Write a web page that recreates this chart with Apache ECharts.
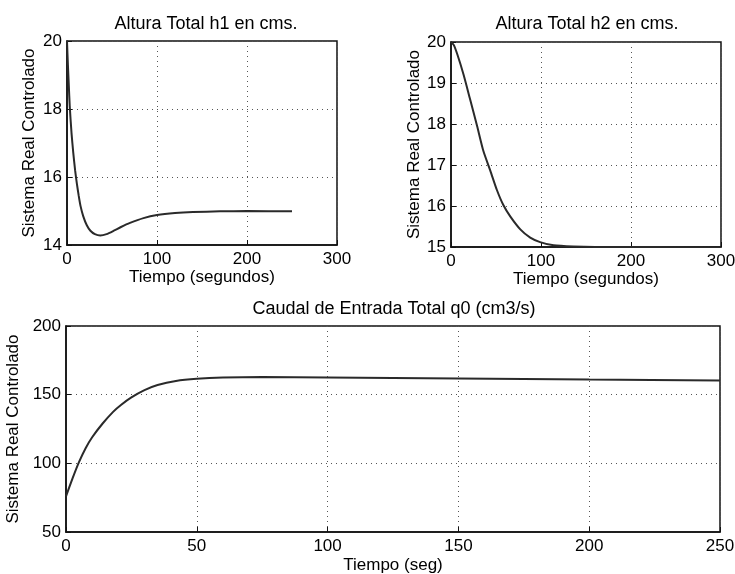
<!DOCTYPE html>
<html>
<head>
<meta charset="utf-8">
<script src="https://cdn.jsdelivr.net/npm/echarts@6/dist/echarts.min.js"></script>
<style>
html,body{margin:0;padding:0;background:#fff;}
#chart{width:735px;height:574px;}
</style>
</head>
<body>
<div id="chart"></div>
<script>
// ---- data ----
const titles = ["Altura Total h1 en cms.", "Altura Total h2 en cms.", "Caudal de Entrada Total q0 (cm3/s)"];
const yName = "Sistema Real Controlado";
const xNames = ["Tiempo (segundos)", "Tiempo (segundos)", "Tiempo (seg)"];

const t1 = [0, 1, 2, 3, 5, 7, 9, 11, 13, 15, 18, 22, 26, 31, 37, 44, 52, 60, 70, 85, 100, 120, 140, 170, 200, 250];
const h1 = [20.0, 19.3, 18.7, 18.1, 17.3, 16.7, 16.2, 15.8, 15.45, 15.15, 14.85, 14.58, 14.42, 14.32, 14.28, 14.32, 14.42, 14.53, 14.65, 14.79, 14.88, 14.94, 14.97, 14.99, 15.0, 14.99];

const t2 = [0, 3, 7, 14, 21, 29, 36, 44, 51, 58, 66, 77, 88, 99, 114, 136, 160, 190, 230, 300];
const h2 = [20.0, 19.93, 19.7, 19.2, 18.62, 17.95, 17.34, 16.84, 16.39, 16.03, 15.74, 15.43, 15.23, 15.12, 15.04, 15.01, 15.0, 15.0, 15.0, 14.99];

const t3 = [0, 2.5, 5, 7.5, 10, 14, 18, 21, 25, 30, 35, 42, 50, 60, 75, 100, 125, 150, 200, 250];
const q0 = [76, 89, 101, 111, 119, 129, 137.5, 142.5, 148, 153.3, 157, 160, 161.6, 162.5, 162.8, 162.5, 162.1, 161.7, 161.0, 160.4];

const xTicks = [[0, 300, 100], [0, 300, 100], [0, 250, 50]];
const yTicks = [[14, 20, 2], [15, 20, 1], [50, 200, 50]];

// ---- chart ----
const FONT = "Liberation Sans, Arial, Helvetica, sans-serif";
const TXT = "#000";
const grids = [
  {left: 67, top: 41, width: 270, height: 204},
  {left: 451, top: 42, width: 270, height: 205},
  {left: 66, top: 326, width: 654, height: 206}
];
const titlePos = [[206, 15], [587, 15], [394, 300]];
const xNameGap = [23, 22, 25];
const yNameGap = [29, 28, 37];

function pair(t, v) { return t.map((x, i) => [x, v[i]]); }
const seriesData = [pair(t1, h1), pair(t2, h2), pair(t3, q0)];

const gridLine = {show: true, lineStyle: {color: "#555", width: 1, type: [1, 4]}};

const option = {
  backgroundColor: "#fff",
  animation: false,
  title: titles.map((t, i) => ({
    text: t, left: titlePos[i][0], top: titlePos[i][1], textAlign: "center", padding: 0,
    textStyle: {fontFamily: FONT, fontSize: 18, fontWeight: "normal", color: TXT}
  })),
  grid: grids.map(g => Object.assign({
    show: true, borderColor: "#111", borderWidth: 1.5, backgroundColor: "#fff",
    containLabel: false, outerBoundsMode: "none"
  }, g)),
  xAxis: xTicks.map((tk, i) => ({
    type: "value", gridIndex: i, min: tk[0], max: tk[1], interval: tk[2],
    name: xNames[i], nameLocation: "middle", nameGap: xNameGap[i],
    nameTextStyle: {fontFamily: FONT, fontSize: 17, color: TXT},
    axisLine: {show: true, lineStyle: {color: "#111", width: 1.5}},
    axisTick: {show: true, inside: true, length: 5, lineStyle: {color: "#111"}},
    axisLabel: {fontFamily: FONT, fontSize: 17, color: TXT, margin: 6},
    splitLine: gridLine
  })),
  yAxis: yTicks.map((tk, i) => ({
    type: "value", gridIndex: i, min: tk[0], max: tk[1], interval: tk[2],
    name: yName, nameLocation: "middle", nameGap: yNameGap[i], nameRotate: 90,
    nameTextStyle: {fontFamily: FONT, fontSize: 17, color: TXT},
    axisLine: {show: true, lineStyle: {color: "#111", width: 1.5}},
    axisTick: {show: true, inside: true, length: 5, lineStyle: {color: "#111"}},
    axisLabel: {fontFamily: FONT, fontSize: 17, color: TXT, margin: 5},
    splitLine: gridLine
  })),
  series: seriesData.map((d, i) => ({
    type: "line", xAxisIndex: i, yAxisIndex: i, data: d,
    showSymbol: false, smooth: 0.2,
    lineStyle: {color: "#2a2a2a", width: 2}
  }))
};

const chart = echarts.init(document.getElementById("chart"), null, {renderer: "canvas"});
chart.setOption(option);
</script>
</body>
</html>
